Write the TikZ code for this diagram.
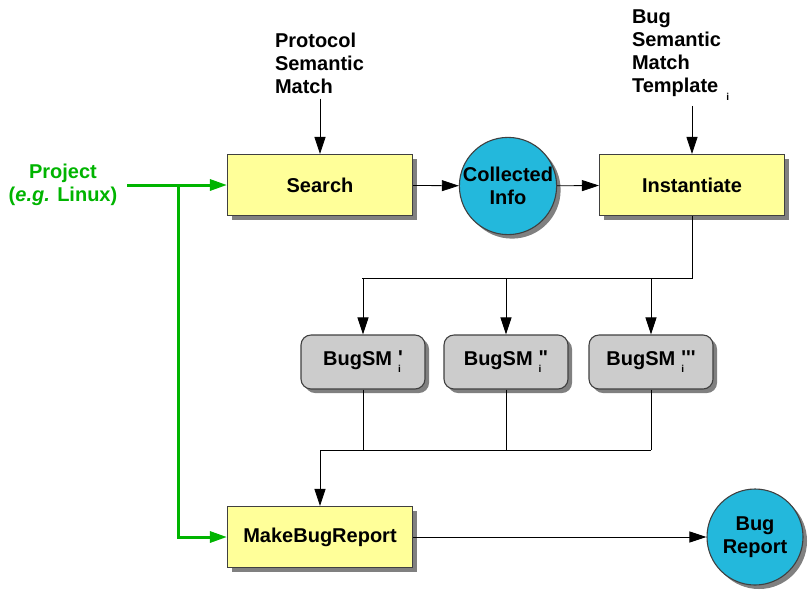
\documentclass[tikz,border=0pt]{standalone}
\usepackage{fontspec}
\setmainfont{Liberation Sans}
\usetikzlibrary{arrows.meta,shadows}

\definecolor{boxyellow}{HTML}{FFFF99}
\definecolor{infoblue}{HTML}{23B8DC}
\definecolor{smgray}{HTML}{CCCCCC}
\definecolor{projgreen}{HTML}{00B400}

\newcommand{\smmark}[1]{\hspace{6pt}\rlap{\raisebox{-7pt}{\fontsize{10}{10}\selectfont i}}\raisebox{1pt}{#1}}

\tikzset{
  lbl/.style={font=\fontsize{20}{23}\selectfont\bfseries},
  shad/.style={drop shadow={shadow xshift=4pt,shadow yshift=-4pt,fill=black!50,opacity=1}},
  stepbox/.style={lbl,draw=black!75,line width=1.1pt,fill=boxyellow,shad,
    minimum width=185pt,minimum height=61pt,inner sep=0pt},
  smbox/.style={lbl,draw=black!75,line width=1.1pt,fill=smgray,shad,rounded corners=10pt,
    minimum width=124pt,minimum height=54pt,inner sep=0pt},
  data/.style={lbl,circle,draw=black!75,line width=1.1pt,fill=infoblue,shad,
    minimum size=96pt,inner sep=0pt,align=center},
  arr/.style={line width=0.8pt,-{Triangle[length=17pt,width=11pt]}},
  garr/.style={projgreen,line width=3pt,-{Triangle[length=17pt,width=11pt]}}
}

\begin{document}
\begin{tikzpicture}[x=1pt,y=-1pt]
\useasboundingbox (0,0) rectangle (810,590);
% boxes and data
\node[stepbox] (search) at (320,185) {Search};
\node[data] (info) at (508,186) {Collected\\Info};
\node[stepbox] (inst) at (692,185) {Instantiate};
\node[smbox] (sm1) at (363,362) {BugSM\smmark{\textquotesingle}};
\node[smbox] (sm2) at (506,362) {BugSM\smmark{\textquotedbl}};
\node[smbox] (sm3) at (651,362) {BugSM\smmark{\textquotesingle\textquotesingle\textquotesingle}};
\node[stepbox] (report) at (320,537) {MakeBugReport};
\node[data] (bug) at (755,537) {Bug\\Report};
% inputs
\node[lbl,align=left,anchor=north west,inner sep=0pt,outer sep=5pt] (proto) at (270,28) {Protocol\\Semantic\\Match};
\node[lbl,align=left,anchor=north west,inner sep=0pt,outer sep=5pt] (tmpl) at (627,5)
  {Bug\\Semantic\\Match\\Template\hspace{8pt}\raisebox{-8pt}{\fontsize{10}{10}\selectfont i}};
\node[lbl,projgreen,align=center,inner sep=0pt,outer sep=10pt] (proj) at (63,185) {Project\\(\textit{e.g.} Linux)};
\coordinate (fork) at (178,185);
\coordinate (split) at (362,278);
\coordinate (merge) at (320,450);
% connectors
\draw[arr] (proto.south -| search.north) -- (search.north);
\draw[arr] (tmpl.south -| inst.north) -- (inst.north);
\draw[arr] (search) -- (info);
\draw[arr] (info) -- (inst);
\draw[line width=0.8pt] (inst.south) |- (split);
\foreach \n in {sm1,sm2,sm3} {
    \draw[arr] (\n.north |- split) -- (\n.north);
    \draw[line width=0.8pt] (\n.south) -- (\n.south |- merge);
}
\draw[line width=0.8pt] (merge) -- (sm3.south |- merge);
\draw[arr] (merge) -- (report.north);
\draw[arr] (report) -- (bug);
\draw[garr] (proj) -- (search);
\draw[garr] (fork) |- (report);
\end{tikzpicture}
\end{document}
